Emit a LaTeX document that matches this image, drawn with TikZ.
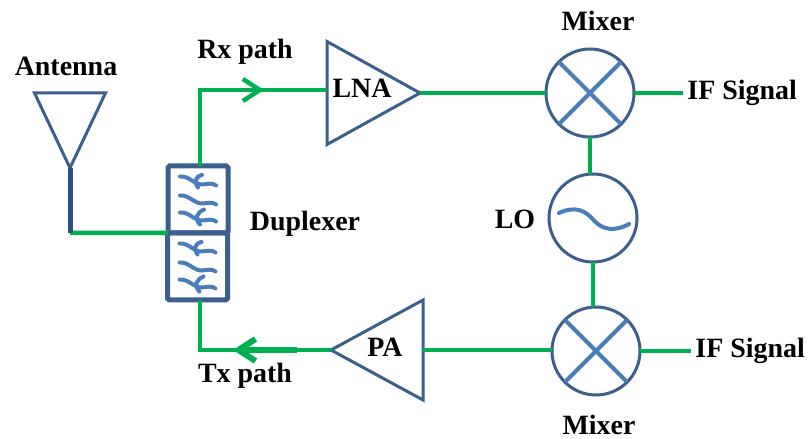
\documentclass[tikz,border=0pt]{standalone}
\usepackage{fontspec}
\setmainfont{Liberation Serif}
\usetikzlibrary{arrows.meta,shapes.geometric}
\definecolor{rfgreen}{HTML}{00B050}
\definecolor{rfnavy}{HTML}{3C5F8C}
\definecolor{rfstem}{HTML}{2A5288}
\definecolor{rfblue}{HTML}{4A7EBB}
\tikzset{
  rflabel/.style={font=\fontsize{15.9}{18}\selectfont\bfseries, text=black, inner sep=2.3pt},
  ampblock/.style={draw=rfnavy, line width=.06cm, isosceles triangle, isosceles triangle stretches,
    inner sep=0pt, outer sep=0pt},
  roundblock/.style={draw=rfnavy, fill=white, line width=.06cm, circle, minimum size=1.76cm,
    inner sep=0pt, outer sep=0pt},
  filterbox/.style={draw=rfnavy, line width=.1cm, rounded corners=1pt, minimum width=1.2cm,
    minimum height=1.34cm, inner sep=0pt, outer sep=0pt},
  rfline/.style={draw=rfgreen, line width=.09cm},
  rfflow/.style={-{Straight Barb[length=3.4mm,width=4.4mm]}, draw=rfgreen, line width=.09cm},
  crossline/.style={draw=rfblue, line width=.08cm},
  waveline/.style={draw=rfblue, line width=.08cm, line cap=round},
  wavestack/.pic={
    \foreach \dy in {.38,0,-.34} {
      \draw[waveline] (-.36,\dy+.08) .. controls (-.18,\dy+.1) and (-.06,\dy-.1) .. (.1,\dy-.08)
        .. controls (.2,\dy-.07) and (.28,\dy-.04) .. (.36,\dy-.1);
    }
    \draw[waveline] (.08,.49) .. controls (-.06,.46) and (-.08,.34) .. (0,.24);
    \draw[waveline] (.12,-.2) .. controls (-.02,-.26) and (-.08,-.38) .. (.04,-.5);
  }
}
\begin{document}
\begin{tikzpicture}[x=1cm,y=1cm]
  \useasboundingbox (0,0) rectangle (16.2,8.78);
  % Antenna and duplexer
  \node[ampblock, shape border rotate=270, minimum width=1.42cm, minimum height=1.5cm, anchor=apex]
    (antenna) at (1.40,5.42) {};
  \coordinate (antfoot) at (1.40,4.12);
  \node[filterbox] (duprx) at (3.96,4.79) {};
  \node[filterbox] (duptx) at (3.95,3.45) {};
  \foreach \filt in {duprx,duptx} {
    \pic at (\filt) {wavestack};
  }
  \draw[rfline] (antfoot) -- (duprx.south west);
  \draw[draw=rfstem, line width=.1cm] (antenna.apex) -- (antfoot);

  % Receive branch
  \node[ampblock, minimum width=2.06cm, minimum height=1.86cm, anchor=apex] (lna) at (8.40,6.92) {};
  \node[roundblock] (mixrx) at (11.80,6.92) {};
  \node[roundblock] (lo) at (11.86,4.42) {};
  \coordinate (rxbend) at (4.00,6.98);
  \coordinate (rxtip) at (5.28,6.98);
  \coordinate (lnain) at (6.54,6.98);
  \draw[rfline] (rxbend |- duprx.north) -- (rxbend) -- (lnain);
  \draw[rfflow] (rxbend) -- (rxtip);
  \draw[rfline] (lna.apex) -- (mixrx.west);

  % Transmit branch
  \node[ampblock, shape border rotate=180, minimum width=2cm, minimum height=1.84cm, anchor=apex]
    (pa) at (6.62,1.78) {};
  \node[roundblock] (mixtx) at (11.92,1.76) {};
  \coordinate (txbend) at (4.00,1.78);
  \coordinate (txtip) at (4.66,1.78);
  \coordinate (txfar) at (5.94,1.78);
  \draw[rfline] (pa.apex) -- (txbend) -- (txbend |- duptx.south);
  \draw[rfflow, line width=.12cm] (txfar) -- (txtip);
  \draw[rfline] (pa.lower side) -- (pa.lower side -| mixtx.west);

  % LO feed
  \draw[rfline] (mixrx.south) -- (mixrx.south |- lo.north);
  \draw[rfline] (lo.south) -- (lo.south |- mixtx.north);
  \draw[waveline, shift={(lo)}] (-.68,.10) .. controls (-.35,.25) and (-.15,.15) .. (.02,-.05)
    .. controls (.2,-.25) and (.45,-.27) .. (.72,-.12);
  \foreach \mix in {mixrx,mixtx} {
    \draw[crossline] (\mix.135) -- (\mix.315);
    \draw[crossline] (\mix.45) -- (\mix.225);
  }

  % Labels
  \node[rflabel] (antlabel) at (1.32,7.46) {Antenna};
  \node[rflabel] (rxlabel) at (4.90,7.74) {Rx path};
  \node[rflabel] (txlabel) at (4.90,1.26) {Tx path};
  \node[rflabel] (duplabel) at (6.10,4.30) {Duplexer};
  \node[rflabel] (lolabel) at (10.30,4.40) {LO};
  \node[rflabel] (lnalabel) at (7.24,7.02) {LNA};
  \node[rflabel] (palabel) at (7.70,1.84) {PA};
  \node[rflabel] (mixrxlabel) at (11.96,8.36) {Mixer};
  \node[rflabel] (mixtxlabel) at (11.98,.28) {Mixer};
  \node[rflabel, anchor=west] (ifrx) at (13.66,6.92) {IF Signal};
  \node[rflabel, anchor=west] (iftx) at (13.82,1.76) {IF Signal};
  \draw[rfline] (mixrx.east) -- (ifrx.west);
  \draw[rfline] (mixtx.east) -- (iftx.west);
\end{tikzpicture}
\end{document}
